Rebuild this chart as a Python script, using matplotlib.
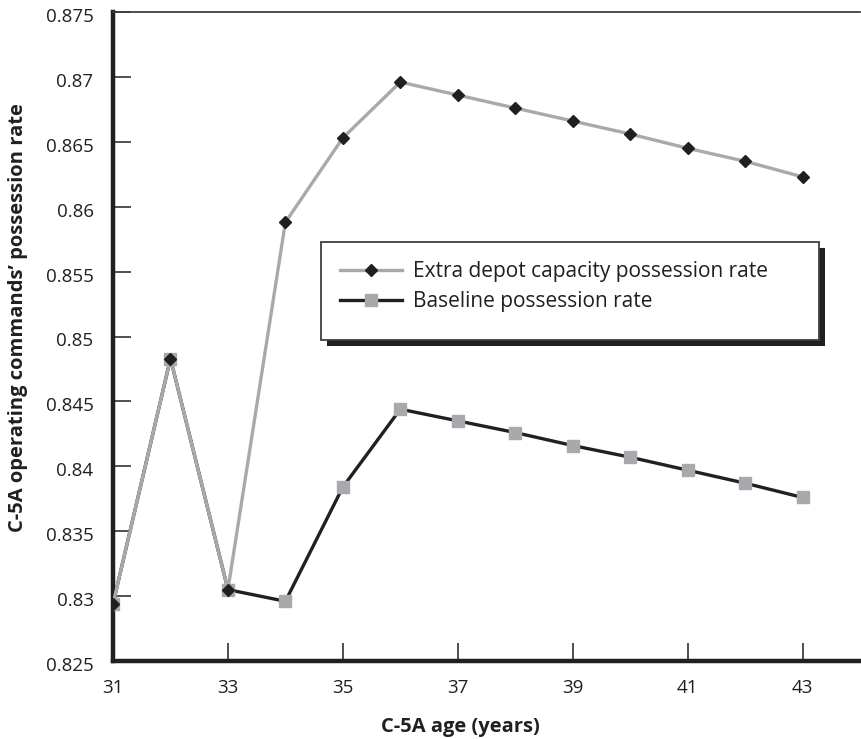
import matplotlib
matplotlib.use("Agg")
import matplotlib.pyplot as plt
from matplotlib.patches import Rectangle
from matplotlib.transforms import ScaledTranslation

# Data
ages = [31, 32, 33, 34, 35, 36, 37, 38, 39, 40, 41, 42, 43]
extra_depot = [0.8294, 0.8483, 0.8305, 0.8588, 0.8653, 0.8696, 0.8686,
               0.8676, 0.8666, 0.8656, 0.8645, 0.8635, 0.8623]
baseline = [0.8294, 0.8483, 0.8305, 0.8296, 0.8384, 0.8444, 0.8435,
            0.8426, 0.8416, 0.8407, 0.8397, 0.8387, 0.8376]
xticks = [31, 33, 35, 37, 39, 41, 43]
yticks = [0.825, 0.83, 0.835, 0.84, 0.845, 0.85, 0.855, 0.86, 0.865, 0.87, 0.875]
ytick_labels = ["0.825", "0.83", "0.835", "0.84", "0.845", "0.85", "0.855",
                "0.86", "0.865", "0.87", "0.875"]
series_labels = ["Extra depot capacity possession rate", "Baseline possession rate"]

plt.rcParams['font.family'] = ['Open Sans', 'DejaVu Sans']

W, H = 862, 739
fig = plt.figure(figsize=(W / 100, H / 100), dpi=100)
ax = fig.add_axes([113 / W, 1 - 661 / H, (860 - 113) / W, (661 - 12) / H])

dark = '#231f20'
gray_line = '#a7a9ac'
gray_sq = '#a7a9ac'

l_base, = ax.plot(ages, baseline, color=dark, lw=2.4, marker='s', markersize=9,
                  markerfacecolor=gray_sq, markeredgecolor=gray_sq, zorder=3,
                  label=series_labels[1])
l_extra, = ax.plot(ages, extra_depot, color=gray_line, lw=2.4, marker='D', markersize=6.5,
                   markerfacecolor=dark, markeredgecolor=dark, zorder=4,
                   label=series_labels[0])

ax.set_xlim(31, 44)
ax.set_ylim(0.825, 0.875)
ax.set_xticks(xticks)
ax.set_xticklabels([str(t) for t in xticks])
ax.set_yticks(yticks)
ax.set_yticklabels(ytick_labels)

for s in ['left', 'bottom']:
    ax.spines[s].set_linewidth(3.2)
    ax.spines[s].set_color(dark)
ax.spines['top'].set_linewidth(1.3)
ax.spines['top'].set_color('#404040')
ax.spines['right'].set_visible(False)

ax.tick_params(axis='both', direction='in', length=13, width=1.1, color=dark,
               labelsize=13.5, labelcolor=dark)
ax.tick_params(axis='x', pad=13)
ax.tick_params(axis='y', pad=14)
for lab in ax.get_yticklabels():
    lab.set_transform(lab.get_transform() + ScaledTranslation(0, -3 / 100, fig.dpi_scale_trans))

fig.text(460 / W, 1 - 727 / H, 'C-5A age (years)', ha='center', va='center',
         fontsize=14.5, fontweight='bold', color=dark)
fig.text(18 / W, 1 - 318 / H, "C-5A operating commands\u2019 possession rate",
         ha='center', va='center', rotation=90, fontsize=14.5, fontweight='bold', color=dark)

# legend frame (pixels): left 321, top 242, right 819, bottom 340 ; shadow offset 6px
bx0, by_top, bx1, by_bot = 321, 242, 819, 340
off = 6
shadow = Rectangle(((bx0 + off) / W, 1 - (by_bot + off) / H), (bx1 - bx0) / W, (by_bot - by_top) / H,
                   transform=fig.transFigure, facecolor=dark, edgecolor='none', zorder=9)
frame = Rectangle((bx0 / W, 1 - by_bot / H), (bx1 - bx0) / W, (by_bot - by_top) / H,
                  transform=fig.transFigure, facecolor='white', edgecolor='#404040',
                  linewidth=1.3, zorder=10)
fig.add_artist(shadow)
fig.add_artist(frame)

leg = fig.legend(handles=[l_extra, l_base], loc='upper left',
                 bbox_to_anchor=(340 / W, 1 - 261 / H), bbox_transform=fig.transFigure,
                 borderaxespad=0, borderpad=0, frameon=False, fontsize=15,
                 handlelength=3.0, handletextpad=0.5, labelspacing=0.45,
                 labelcolor=dark)
leg.set_zorder(11)

fig.savefig('out.png', dpi=100)
